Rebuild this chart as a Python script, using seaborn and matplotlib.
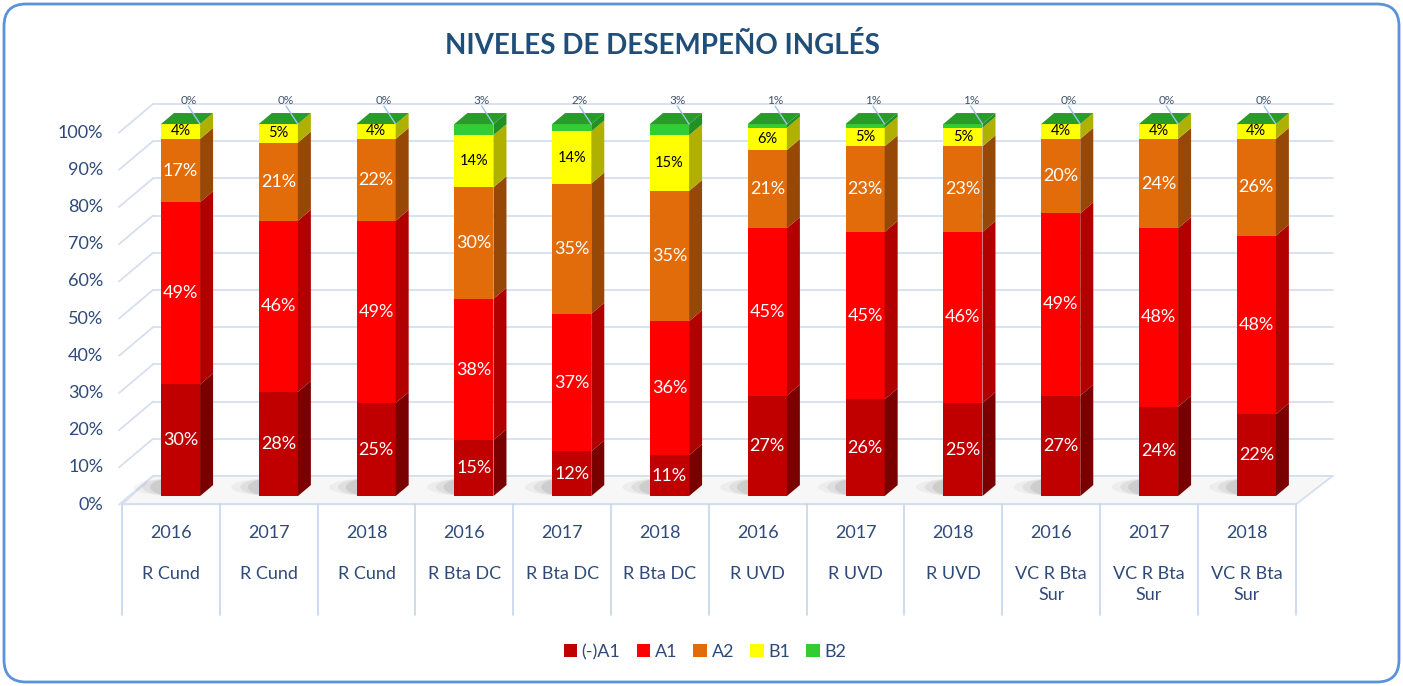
import numpy as np
import pandas as pd
import matplotlib
matplotlib.use("Agg")
import matplotlib.pyplot as plt
import seaborn as sns
from matplotlib.patches import Polygon, Patch, FancyBboxPatch, Ellipse

# data (percent per level)
years = ["2016", "2017", "2018"] * 4
groups = ["R Cund"] * 3 + ["R Bta DC"] * 3 + ["R UVD"] * 3 + ["VC R Bta\nSur"] * 3
levels = ["(-)A1", "A1", "A2", "B1", "B2"]
menos_a1 = [30, 28, 25, 15, 12, 11, 27, 26, 25, 27, 24, 22]
a1 = [49, 46, 49, 38, 37, 36, 45, 45, 46, 49, 48, 48]
a2 = [17, 21, 22, 30, 35, 35, 21, 23, 23, 20, 24, 26]
b1 = [4, 5, 4, 14, 14, 15, 6, 5, 5, 4, 4, 4]
b2 = [0, 0, 0, 3, 2, 3, 1, 1, 1, 0, 0, 0]

front_cols = ["#C00000", "#FF0000", "#E36C0A", "#FFFF00", "#33CC33"]
side_cols = ["#7A0000", "#B00000", "#974706", "#B0B000", "#239023"]
top_col = "#2A9A2A"
txt_blue = "#2E4A7A"
grid_col = "#D5DFEF"

keys = [f"{g} {y}" for g, y in zip(groups, years)]
vals = np.array([menos_a1, a1, a2, b1, b2])
cum = vals.cumsum(axis=0)
df = pd.DataFrame({
    "key": np.tile(keys, len(levels)),
    "level": np.repeat(levels, len(keys)),
    "value": vals.ravel(),
    "cum": cum.ravel(),
})

sns.set_style("white")
plt.rcParams["font.family"] = ["Lato", "DejaVu Sans"]

fig = plt.figure(figsize=(14.03, 6.86), dpi=100)
ax = fig.add_axes([0.0938, 0.2606, 0.8365, 0.6128])

BW = 0.40      # bar front width
DX, DY = 0.133, 2.96   # 3d depth of bars
FX, FY = -0.098, -2.3  # front plane offset
BX0, BX1, BY = -0.281, 11.78, 5.4  # back wall

# back wall gridlines + left wall diagonals
for v in range(0, 101, 10):
    ax.plot([BX0, BX1], [v + BY, v + BY], color=grid_col, lw=1.3, zorder=0, clip_on=False)
    ax.plot([-0.629, BX0], [v + FY, v + BY], color=grid_col, lw=1.3, zorder=0, clip_on=False)
    ax.text(-0.79, v + FY, f"{v}%", ha="right", va="center", fontsize=13, color=txt_blue)

# floor
floor = Polygon([(-0.598, -2.2), (11.406, -2.2), (BX1, BY), (BX0, BY)],
                closed=True, facecolor="#F7F7F7", edgecolor=grid_col, lw=1.3, zorder=0.5, clip_on=False)
ax.add_patch(floor)

# soft shadows under bars
for i in range(len(keys)):
    for w, a in [(0.8, 0.05), (0.62, 0.08), (0.46, 0.11)]:
        ax.add_patch(Ellipse((i - 0.08, 2.4), w, 4.6, facecolor="#404040", alpha=a,
                             edgecolor="none", zorder=0.8))

# front faces: stacked by overdrawing cumulative totals
for lvl, c in reversed(list(zip(levels, front_cols))):
    sns.barplot(data=df[df["level"] == lvl], x="key", y="cum", order=keys, color=c,
                saturation=1, width=BW, errorbar=None, ax=ax, zorder=2, edgecolor="none")

# side faces, top faces and labels
for i in range(len(keys)):
    xr = i + BW / 2
    for j in range(len(levels)):
        b = cum[j, i] - vals[j, i]
        t = cum[j, i]
        if vals[j, i] > 0:
            ax.add_patch(Polygon([(xr, b), (xr + DX, b + DY), (xr + DX, t + DY), (xr, t)],
                                 closed=True, facecolor=side_cols[j], edgecolor="none", zorder=2))
        mid = (b + t) / 2
        if j < 3:
            ax.text(i, mid, f"{vals[j, i]}%", ha="center", va="center", fontsize=13, color="white", zorder=3)
        elif j == 3:
            ax.text(i, mid, f"{vals[j, i]}%", ha="center", va="center", fontsize=10.5, color="black", zorder=3)
    top = cum[-1, i]
    ax.add_patch(Polygon([(i - BW / 2, top), (i - BW / 2 + DX, top + DY),
                          (xr + DX, top + DY), (xr, top)],
                         closed=True, facecolor=top_col, edgecolor="none", zorder=2))
    ax.plot([i + 0.08, i + 0.2], [104.8, top], color="#9DC3E6", lw=1, zorder=3)
    ax.text(i + 0.08, 106.4, f"{vals[4, i]}%", ha="center", va="center", fontsize=8.5, color="#44546A")

# category table under the floor
ax.plot([-0.598, 11.406], [-2.2, -2.2], color=grid_col, lw=1.3, clip_on=False, zorder=0.6)
for k in range(13):
    ax.plot([-0.598 + k, -0.598 + k], [-2.2, -32], color="#C5D5EA", lw=1.2, clip_on=False)
for i, (y, g) in enumerate(zip(years, groups)):
    ax.text(i + FX, -9.9, y, ha="center", va="center", fontsize=13, color=txt_blue)
    ax.text(i + FX, -18.8, g, ha="center", va="top", fontsize=13, color=txt_blue, linespacing=1.35)

ax.set_xlim(-0.5, 11.5)
ax.set_ylim(-3, 110)
ax.axis("off")

fig.text(662 / 1403, 1 - 46 / 686, "NIVELES DE DESEMPEÑO INGLÉS", ha="center", va="center",
         fontsize=20, fontweight="bold", color="#1F4E79")

handles = [Patch(facecolor=c, edgecolor="none", label=l) for l, c in zip(levels, front_cols)]
fig.legend(handles=handles, loc="center", bbox_to_anchor=(705 / 1403, 1 - 652 / 686), ncol=5,
           frameon=False, fontsize=13, handlelength=0.75, handleheight=0.75,
           handletextpad=0.25, columnspacing=0.9, labelcolor=txt_blue)

fig.patches.append(FancyBboxPatch((0.04, 0.04), 13.95, 6.78, boxstyle="round,pad=0,rounding_size=0.22",
                                  transform=fig.dpi_scale_trans, facecolor="none",
                                  edgecolor="#5B93DA", lw=2, figure=fig))

fig.savefig("out.png", dpi=100)
